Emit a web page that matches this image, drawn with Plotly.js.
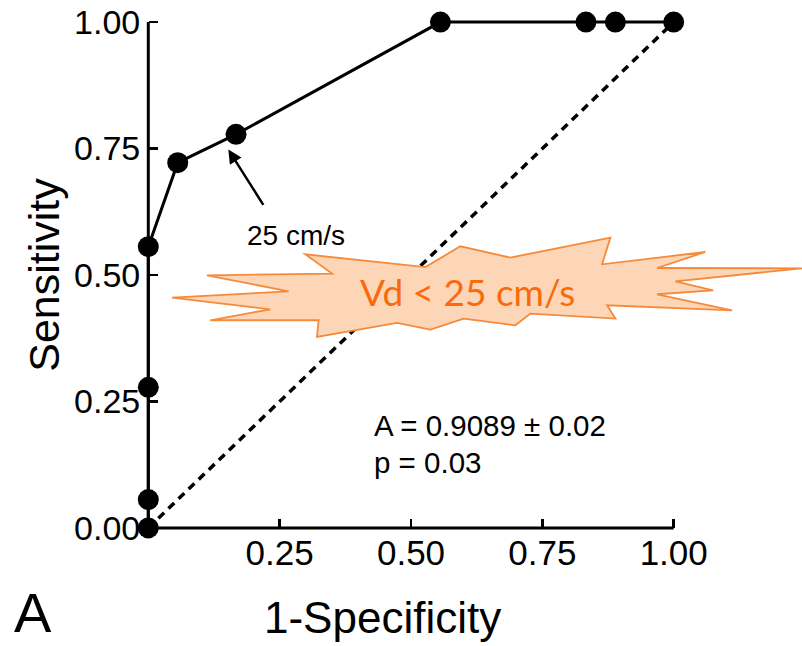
<!DOCTYPE html>
<html>
<head>
<meta charset="utf-8">
<script src="https://cdn.plot.ly/plotly-3.0.1.min.js"></script>
<style>
html,body{margin:0;padding:0;background:#fff;}
#chart{width:802px;height:646px;}
</style>
</head>
<body>
<div id="chart"></div>
<script>
// ROC curve data (1-Specificity vs Sensitivity)
var fpr = [0, 0, 0, 0, 0.056, 0.167, 0.556, 0.833, 0.889, 1.0];
var tpr = [0, 0.056, 0.278, 0.556, 0.722, 0.778, 1.0, 1.0, 1.0, 1.0];
// chance line
var diagX = [0, 1];
var diagY = [0, 1];
// ticks
var xTickVals = [0.25, 0.5, 0.75, 1.0];
var xTickText = ['0.25', '0.50', '0.75', '1.00'];
var yTickVals = [0, 0.25, 0.5, 0.75, 1.0];
var yTickText = ['0.00', '0.25', '0.50', '0.75', '1.00'];

var W = 802, H = 646;
// pixel frame of the unit square
var X0 = 148, X1 = 673.3, Y0 = 527.7, Y1 = 21.7, PAD = 0.012;
var ux = X1 - X0, uy = Y0 - Y1;
var M = {l: X0 - PAD * ux, r: W - X1 - PAD * ux, t: Y1 - PAD * uy, b: H - Y0 - PAD * uy, pad: 0};
var PW = W - M.l - M.r, PH = H - M.t - M.b;
function px(x) { return (x - M.l) / PW; }
function py(y) { return (H - M.b - y) / PH; }
var axPos = PAD / (1 + 2 * PAD);

// starburst callout outline (page pixels)
var burst = [[206.7,275],[331.7,273.3],[305,254],[425,266.7],[460,246],[510,257.3],[610,237.3],[601.7,264],
  [705,251.7],[656.7,267.7],[802,268],[675,281],[712.7,290],[656.7,294],[731.7,310],[606.7,305],[615,318.3],
  [530,313.3],[515,325],[463.3,318.3],[430,329.3],[396.7,322.7],[316.7,336.7],[318.3,320],[210,320],
  [270,309],[171.7,297.3],[288.3,291]];
var burstPath = burst.map(function(p, i){ return (i ? 'L' : 'M') + px(p[0]).toFixed(4) + ',' + py(p[1]).toFixed(4); }).join(' ') + ' Z';

var FONT = '"Liberation Sans", Arial, Helvetica, sans-serif';

var traces = [
  {x: diagX, y: diagY, type: 'scatter', mode: 'lines',
   line: {color: '#000', width: 3.5, dash: '8px,6px'}, hoverinfo: 'skip', cliponaxis: false},
  {x: fpr, y: tpr, type: 'scatter', mode: 'lines+markers',
   line: {color: '#000', width: 3}, marker: {color: '#000', size: 21}, cliponaxis: false}
];

var layout = {
  width: W, height: H,
  margin: M,
  paper_bgcolor: '#fff', plot_bgcolor: '#fff',
  showlegend: false,
  font: {family: FONT, color: '#000'},
  xaxis: {
    range: [-PAD, 1 + PAD], fixedrange: true,
    anchor: 'free', position: axPos,
    showgrid: false, zeroline: false, showline: false,
    ticks: 'inside', ticklen: 9, tickwidth: 2.5, tickcolor: '#000',
    tickvals: xTickVals, ticktext: xTickText,
    tickfont: {family: FONT, size: 35, color: '#000'},
    ticklabelstandoff: 1
  },
  yaxis: {
    range: [-PAD, 1 + PAD], fixedrange: true,
    anchor: 'free', position: axPos,
    showgrid: false, zeroline: false, showline: false,
    ticks: 'inside', ticklen: 9, tickwidth: 2.5, tickcolor: '#000',
    tickvals: yTickVals, ticktext: yTickText,
    tickfont: {family: FONT, size: 34, color: '#000'},
    ticklabelstandoff: 8,
    title: {text: 'Sensitivity', font: {family: FONT, size: 43, color: '#000'}, standoff: 0}
  },
  shapes: [
    {type: 'line', xref: 'x', yref: 'y', x0: 0, y0: 0, x1: 1, y1: 0, line: {color: '#000', width: 3}, layer: 'below'},
    {type: 'line', xref: 'x', yref: 'y', x0: 0, y0: 0, x1: 0, y1: 1, line: {color: '#000', width: 3}, layer: 'below'},
    {type: 'path', xref: 'paper', yref: 'paper', path: burstPath,
     fillcolor: '#fcd6b6', line: {color: '#f68a3a', width: 1.8}, layer: 'above'}
  ],
  annotations: [
    {xref: 'paper', yref: 'paper', x: px(382), y: py(617), text: '1-Specificity', showarrow: false,
     font: {family: FONT, size: 44, color: '#000'}, xanchor: 'center', yanchor: 'middle'},
    {xref: 'paper', yref: 'paper', x: px(467), y: py(291), text: 'Vd &lt; 25 cm/s', showarrow: false,
     font: {family: 'Lato, "Open Sans", sans-serif', size: 37, color: '#fa6a0c'}, xanchor: 'center', yanchor: 'middle'},
    {x: 0.1523, y: 0.748, xref: 'x', yref: 'y', text: ' ', showarrow: true, ax: 38, ay: 60,
     arrowhead: 2, arrowsize: 1.1, arrowwidth: 2.5, arrowcolor: '#000', standoff: 0, startstandoff: 0},
    {x: 0.2817, y: 0.578, xref: 'x', yref: 'y', text: '25 cm/s', showarrow: false,
     font: {family: FONT, size: 28, color: '#000'}, xanchor: 'center', yanchor: 'middle'},
    {x: 0.4264, y: 0.203, xref: 'x', yref: 'y', text: 'A = 0.9089 ± 0.02', showarrow: false,
     font: {family: FONT, size: 29.5, color: '#000'}, xanchor: 'left', yanchor: 'middle'},
    {x: 0.4264, y: 0.130, xref: 'x', yref: 'y', text: 'p = 0.03', showarrow: false,
     font: {family: FONT, size: 29.5, color: '#000'}, xanchor: 'left', yanchor: 'middle'},
    {xref: 'paper', yref: 'paper', x: px(33), y: py(612), text: 'A', showarrow: false,
     font: {family: FONT, size: 56, color: '#000'}, xanchor: 'center', yanchor: 'middle'}
  ]
};

Plotly.newPlot('chart', traces, layout, {staticPlot: true, displayModeBar: false});
</script>
</body>
</html>
